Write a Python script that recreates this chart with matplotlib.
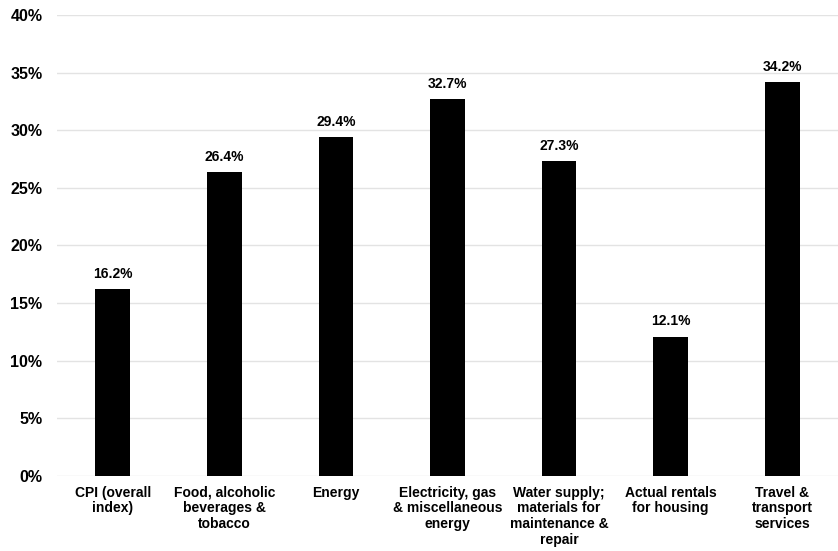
import numpy as np
import matplotlib.pyplot as plt
from matplotlib.ticker import FuncFormatter

categorias = ["CPI (overall\nindex)", "Food, alcoholic\nbeverages &\ntobacco", "Energy",
              "Electricity, gas\n& miscellaneous\nenergy", "Water supply;\nmaterials for\nmaintenance &\nrepair",
              "Actual rentals\nfor housing", "Travel &\ntransport\nservices"]
valores = [16.2, 26.4, 29.4, 32.7, 27.3, 12.1, 34.2]

plt.rcParams['font.family'] = ['Liberation Sans', 'DejaVu Sans']
plt.rcParams['font.weight'] = 'bold'

fig = plt.figure(figsize=(8.38, 5.51), dpi=100)
ax = fig.add_axes([0.068, 0.136, 0.932, 0.837])

x = np.arange(len(valores))
ax.bar(x, valores, width=0.31, color='black', zorder=3)
for xi, v in zip(x, valores):
    ax.text(xi, v + 0.7, f"{v:.1f}%", ha='center', va='bottom', fontsize=10, fontweight='bold')

ax.set_xlim(-0.5, len(valores) - 0.5)
ax.set_ylim(0, 40)
ax.set_yticks(np.arange(0, 41, 5))
ax.yaxis.set_major_formatter(FuncFormatter(lambda v, p: f"{v:.0f}%"))
ax.set_xticks(x)
ax.set_xticklabels(categorias, fontsize=10, fontweight='bold', linespacing=1.15)
ax.tick_params(axis='y', labelsize=11.5, length=0, pad=10.5)
ax.tick_params(axis='x', length=0, pad=7)
ax.grid(axis='y', color='#e3e3e3', linewidth=1, zorder=0)
for s in ax.spines.values():
    s.set_visible(False)

fig.savefig("out.png", dpi=100)
